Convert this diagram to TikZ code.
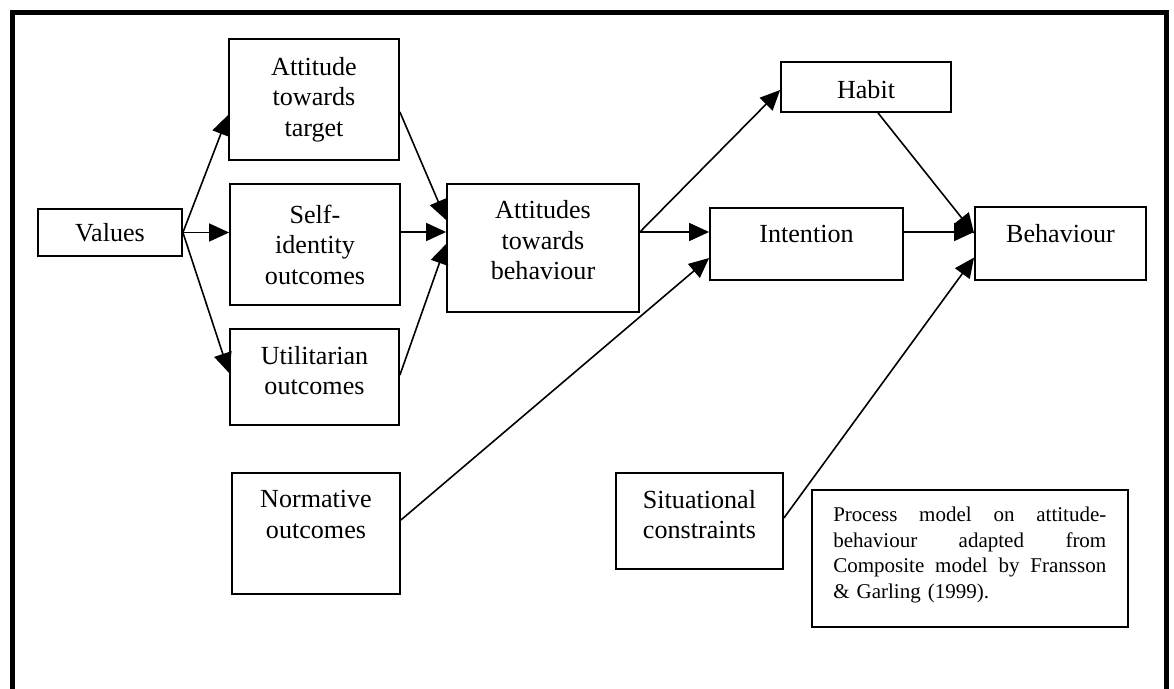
\documentclass[tikz,border=0pt]{standalone}
\usepackage{fontspec}
\setmainfont{Liberation Serif}
\usetikzlibrary{arrows.meta,calc}
\begin{document}
\begin{tikzpicture}[x=1pt,y=-1pt,
  font=\fontsize{26.1pt}{30.5pt}\selectfont,
  box/.style={draw, line width=1.8pt, inner sep=0pt, align=center},
  lbl/.style={inner sep=0pt, align=center},
  arr/.style={line width=1.6pt, -{Triangle[length=20pt,width=18pt]}},
]
\useasboundingbox (0,0) rectangle (1174,688);
\clip (0,0) rectangle (1174,688);

% outer frame (open at the bottom)
\draw[line width=5pt] (12.5,700) -- (12.5,12.5) -- (1166.5,12.5) -- (1166.5,700);

% boxes
\node[box, minimum width=144pt, minimum height=47pt] (val) at (110,232.5) {Values};
\node[box, minimum width=170pt, minimum height=121pt] (attt) at (314,99.5) {Attitude\\towards\\target};
\node[box, minimum width=170pt, minimum height=121pt] (self) at (315,244.5) {Self-\\identity\\outcomes};
\node[box, minimum width=169pt, minimum height=96pt] (util) at (314.5,377) {};
\node[lbl] (utilT) at ($(util.center)+(0,-6.5)$) {Utilitarian\\outcomes};
\node[box, minimum width=168pt, minimum height=121pt] (norm) at (316,533.5) {};
\node[lbl] (normT) at ($(norm.north)+(0,42.5)$) {Normative\\outcomes};
\node[box, minimum width=192pt, minimum height=128pt] (atb) at (543,248) {};
\node[lbl] (atbT) at ($(atb.center)+(0,-7.5)$) {Attitudes\\towards\\behaviour};
\node[box, minimum width=170pt, minimum height=50pt] (habit) at (866,87) {};
\node[lbl, anchor=base] (habitT) at ($(habit.north)+(0,37)$) {Habit};
\node[box, minimum width=193pt, minimum height=72pt] (intent) at (806.5,244) {};
\node[lbl, anchor=base] (intentT) at ($(intent.north)+(0,35)$) {Intention};
\node[box, minimum width=171pt, minimum height=73pt] (behav) at (1060.5,243.5) {};
\node[lbl, anchor=base] (behavT) at ($(behav.north)+(0,36)$) {Behaviour};
\node[box, minimum width=167pt, minimum height=96pt] (sit) at (699.5,521) {};
\node[lbl] (sitT) at ($(sit.north)+(0,42.5)$) {Situational\\constraints};

% caption box
\node[box, minimum width=316pt, minimum height=137pt] (cap) at (970,558.5) {};
\node[inner sep=0pt, anchor=north west, text width=273pt,
      font=\fontsize{21pt}{25.7pt}\selectfont] (capT) at ($(cap.north west)+(22,17.5)$)
  {\hbox to 273pt{Process\hfill model\hfill on\hfill attitude-}
   \hbox to 273pt{behaviour\hfill adapted\hfill from}
   \hbox to 273pt{Composite\hfill model\hfill by\hfill Fransson}
   \hbox{\& Garling (1999).}};

% connectors
\draw[arr] (val.east) -- ($(attt.west)+(0,15.5)$);
\draw[arr] (val.east) -- (val.east -| self.west);
\draw[arr] (val.east) -- ($(util.west)+(0,-4)$);

\draw[arr] ($(attt.east)+(0,12.5)$) -- ($(atb.west)+(0,-28)$);
\draw[arr] ($(self.east)+(0,-12.5)$) coordinate (s1) -- (s1 -| atb.west);
\draw[arr] ($(util.east)+(0,-2)$) -- ($(atb.west)+(0,-4)$);

\draw[arr] ($(atb.east)+(0,-16)$) coordinate (a1) -- ($(habit.west)+(0,3)$);
\draw[arr] (a1) -- (a1 -| intent.west);
\draw[arr] ($(norm.east)+(0,-13.5)$) -- ($(intent.west)+(0,14)$);

\draw[arr] ($(habit.south)+(12,0)$) -- ($(behav.west)+(0,-10)$);
\draw[arr] ($(intent.east)+(0,-12)$) coordinate (i1) -- (i1 -| behav.west);
\draw[arr] ($(sit.east)+(0,-3)$) -- ($(behav.west)+(0,14)$);
\end{tikzpicture}
\end{document}
